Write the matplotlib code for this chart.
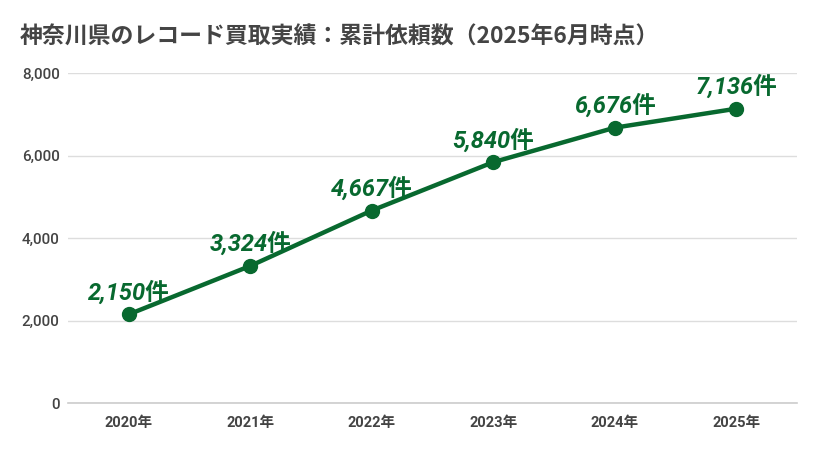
import matplotlib.pyplot as plt

plt.rcParams['font.family'] = ['Roboto', 'Noto Sans CJK JP', 'DejaVu Sans']

# data
years = ['2020年', '2021年', '2022年', '2023年', '2024年', '2025年']
requests = [2150, 3324, 4667, 5840, 6676, 7136]
y_ticks = [0, 2000, 4000, 6000, 8000]

green = '#08692f'

fig = plt.figure(figsize=(8.2, 4.51), dpi=100)
ax = fig.add_axes([0.083, 0.1064, 0.889, 0.7316])

x = list(range(len(years)))
ax.plot(x, requests, color=green, linewidth=3.2, marker='o', markersize=10, zorder=3)

for xi, v in zip(x, requests):
    ax.annotate(f'{v:,}件', (xi, v), xytext=(0, 7), textcoords='offset points',
                ha='center', va='bottom', fontsize=17, fontweight='bold',
                style='italic', color=green, zorder=4)

ax.set_xlim(-0.5, len(years) - 0.5)
ax.set_ylim(0, 8000)
ax.set_xticks(x)
ax.set_xticklabels(years, fontsize=10.5, fontweight='bold', color='#444444')
ax.set_yticks(y_ticks)
ax.set_yticklabels([f'{t:,}' for t in y_ticks], fontsize=11, fontweight='medium',
                   color='#444444')
ax.tick_params(length=0, pad=6)
ax.tick_params(axis='x', pad=9)

ax.grid(axis='y', color='#dddddd', linewidth=1)
ax.set_axisbelow(True)
for side in ['top', 'right', 'left']:
    ax.spines[side].set_visible(False)
ax.spines['bottom'].set_color('#cccccc')
ax.spines['bottom'].set_linewidth(1.2)

fig.text(0.024, 0.917, '神奈川県のレコード買取実績：累計依頼数（2025年6月時点）',
         fontsize=16.5, fontweight='bold', color='#444444', va='center',
         family=['Noto Sans CJK JP', 'DejaVu Sans'])

fig.savefig('out.png', dpi=100)
